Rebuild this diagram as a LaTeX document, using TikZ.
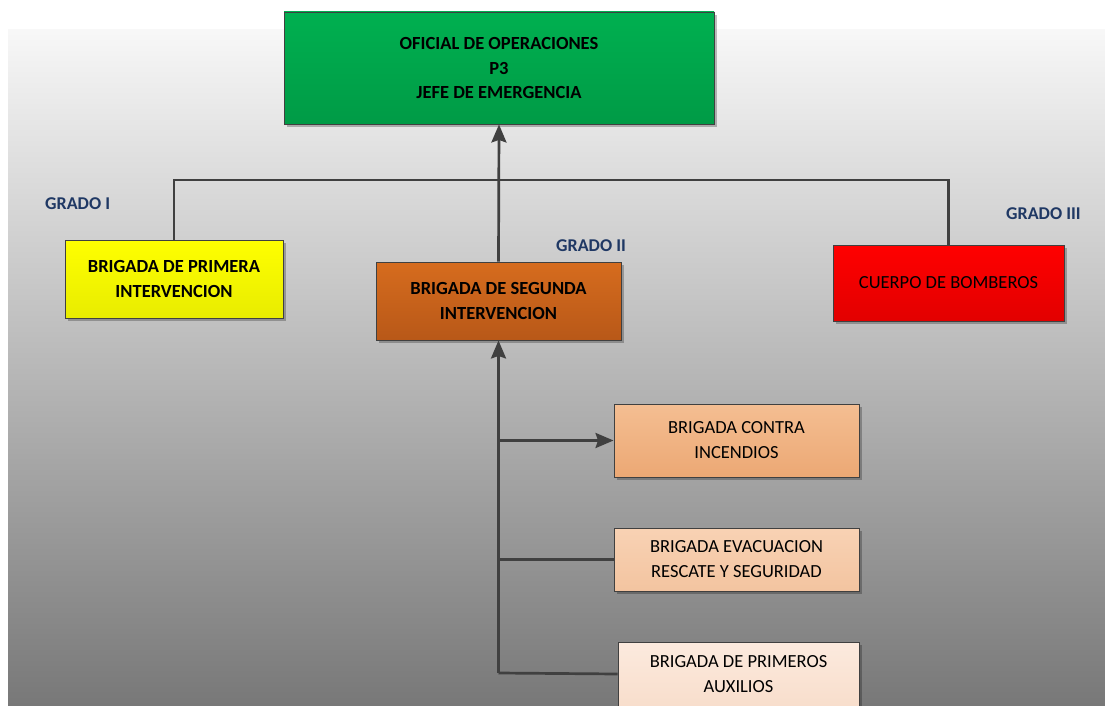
\documentclass[tikz,border=0pt]{standalone}
\usepackage{fontspec}
\setmainfont{Carlito}
\usetikzlibrary{arrows.meta,shadows}
\definecolor{linec}{HTML}{404040}
\definecolor{navy}{HTML}{1F3864}
\definecolor{grT}{RGB}{0,176,80}
\definecolor{grB}{RGB}{0,155,70}
\definecolor{yeT}{RGB}{255,255,0}
\definecolor{yeB}{RGB}{232,236,0}
\definecolor{orT}{RGB}{214,108,30}
\definecolor{orB}{RGB}{184,88,24}
\definecolor{reT}{RGB}{255,0,0}
\definecolor{reB}{RGB}{226,0,0}
\definecolor{inT}{RGB}{244,190,146}
\definecolor{inB}{RGB}{236,168,116}
\definecolor{evT}{RGB}{248,210,180}
\definecolor{evB}{RGB}{243,196,160}
\definecolor{auT}{RGB}{252,234,222}
\definecolor{auB}{RGB}{248,222,204}
\tikzset{
  box/.style={draw=linec, line width=0.9pt, align=center, inner sep=0pt,
    font=\fontsize{18.5}{25}\selectfont,
    drop shadow={shadow xshift=3pt, shadow yshift=-3pt, opacity=0.25, fill=black}},
  conn/.style={draw=linec, line width=2.7pt},
  arr/.style={conn, -{Stealth[length=18pt,width=15pt,inset=2.5pt]}},
  grado/.style={text=navy, font=\bfseries\fontsize{18}{21}\selectfont, inner sep=0pt},
}
\begin{document}
\begin{tikzpicture}[x=1pt,y=-1pt]
\useasboundingbox (0,0) rectangle (1105,706);
\fill[white] (0,0) rectangle (1105,706);
\shade[top color=white!97!black, bottom color=black!53] (8,30) rectangle (1105,706);

\node[box, minimum width=430pt, minimum height=112pt, top color=grT, bottom color=grB, font=\bfseries\fontsize{18.5}{24.5}\selectfont] (top) at (499,68)
  {OFICIAL DE OPERACIONES\\P3\\JEFE DE EMERGENCIA};

\node[box, minimum width=218pt, minimum height=78pt, top color=yeT, bottom color=yeB, font=\bfseries\fontsize{18.5}{25}\selectfont] (yel) at (174,279)
  {BRIGADA DE PRIMERA\\INTERVENCION};

\node[box, minimum width=245pt, minimum height=78pt, top color=orT, bottom color=orB, font=\bfseries\fontsize{18.5}{25}\selectfont] (seg) at (498.5,301)
  {BRIGADA DE SEGUNDA\\INTERVENCION};

\node[box, minimum width=231pt, minimum height=76pt, top color=reT, bottom color=reB] (red) at (948.5,283)
  {CUERPO DE BOMBEROS};

\node[box, minimum width=245pt, minimum height=73pt, top color=inT, bottom color=inB] (inc) at (736.5,440.5)
  {BRIGADA CONTRA\\INCENDIOS};

\node[box, minimum width=245pt, minimum height=63pt, top color=evT, bottom color=evB] (eva) at (736.5,559.5)
  {BRIGADA EVACUACION\\RESCATE Y SEGURIDAD};

\node[box, minimum width=241pt, minimum height=64pt, top color=auT, bottom color=auB] (aux) at (738.5,674)
  {BRIGADA DE PRIMEROS\\AUXILIOS};

\node[grado, anchor=west] (g1) at (45,204) {GRADO I};
\node[grado, anchor=west] (g2) at (556,246) {GRADO II};
\node[grado, anchor=west] (g3) at (1006,214) {GRADO III};

\coordinate (jl) at (174,180);
\coordinate (jr) at (948.5,180);
\draw[conn] (yel.north) -- (jl) -- (jr) -- (red.north);
\draw[arr] (seg.north) -- (top.south);

\coordinate (bot) at (498.5,673);
\coordinate (j1) at (498.5,440.5);
\coordinate (j2) at (498.5,559.5);
\draw[arr] (bot) -- (seg.south);
\draw[arr] (j1) -- (inc.west);
\draw[conn] (j2) -- (eva.west);
\draw[conn] (bot) -- (aux.west);
\end{tikzpicture}
\end{document}
